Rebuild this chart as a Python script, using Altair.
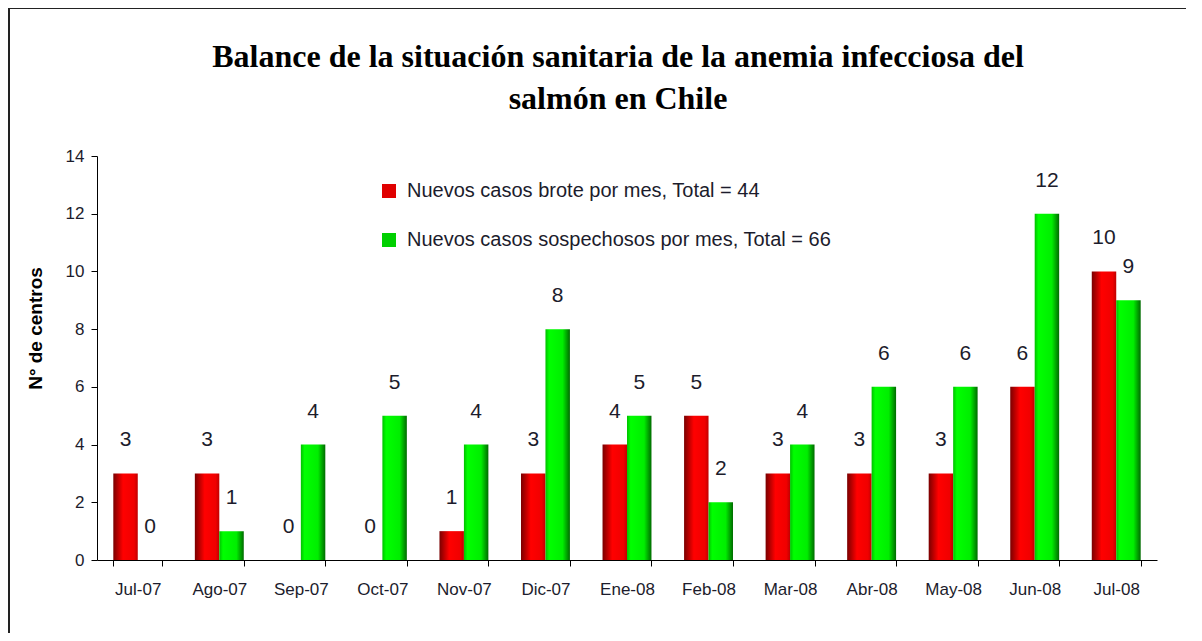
import altair as alt
import pandas as pd

meses = ["Jul-07", "Ago-07", "Sep-07", "Oct-07", "Nov-07", "Dic-07", "Ene-08",
         "Feb-08", "Mar-08", "Abr-08", "May-08", "Jun-08", "Jul-08"]
brote = [3, 3, 0, 0, 1, 3, 4, 5, 3, 3, 3, 6, 10]
sospechosos = [0, 1, 4, 5, 4, 8, 5, 2, 4, 6, 6, 12, 9]
serie_brote = "Nuevos casos brote por mes, Total = 44"
serie_sosp = "Nuevos casos sospechosos por mes, Total = 66"
series = [serie_brote, serie_sosp]
colores = ["#e00000", "#00d000"]

rows = []
for m, b, s in zip(meses, brote, sospechosos):
    rows.append({"mes": m, "serie": serie_brote, "valor": b})
    rows.append({"mes": m, "serie": serie_sosp, "valor": s})
df = pd.DataFrame(rows)

FONT = "Liberation Sans"
TXT = "#1c1c2c"

red_grad = {"gradient": "linear", "x1": 0, "x2": 1, "y1": 0, "y2": 0,
            "stops": [{"offset": 0, "color": "#7a0000"},
                      {"offset": 0.4, "color": "#ff0000"},
                      {"offset": 0.85, "color": "#f00000"},
                      {"offset": 1, "color": "#c00000"}]}
green_grad = {"gradient": "linear", "x1": 0, "x2": 1, "y1": 0, "y2": 0,
              "stops": [{"offset": 0, "color": "#00c000"},
                        {"offset": 0.15, "color": "#00ff00"},
                        {"offset": 0.7, "color": "#00ee00"},
                        {"offset": 1, "color": "#006a00"}]}

x_enc = alt.X("mes:N", sort=meses, title=None,
              scale=alt.Scale(paddingInner=0.4, paddingOuter=0.2),
              axis=alt.Axis(labelAngle=0, labelFont=FONT, labelFontSize=17, labelColor=TXT,
                            domainColor="black", tickColor="black", tickSize=6,
                            tickBand="extent", labelPadding=15))
xo_enc = alt.XOffset("serie:N", scale=alt.Scale(domain=series, paddingInner=0, paddingOuter=0))
y_enc = alt.Y("valor:Q", scale=alt.Scale(domain=[0, 14]),
              axis=alt.Axis(values=list(range(0, 15, 2)), grid=False, title="N° de centros",
                            titleFont=FONT, titleFontSize=19, titleFontWeight="bold", titleColor="black",
                            titleX=-62, titleY=172, titleAngle=270, titleAlign="center",
                            titleBaseline="middle",
                            labelFont=FONT, labelFontSize=17, labelColor=TXT, labelPadding=7,
                            domainColor="black", tickColor="black", tickSize=6))

base = alt.Chart(df)

bars_red = base.transform_filter(alt.datum.serie == serie_brote).mark_bar(
    color=red_grad).encode(x=x_enc, xOffset=xo_enc, y=y_enc)
bars_green = base.transform_filter(alt.datum.serie == serie_sosp).mark_bar(
    color=green_grad).encode(x=x_enc, xOffset=xo_enc, y=y_enc)

labels = base.mark_text(font=FONT, fontSize=21, color=TXT, baseline="middle", dy=-33).encode(
    x=x_enc, xOffset=xo_enc, y=y_enc, text="valor:Q")

legend_layer = base.transform_filter("false").mark_square(size=196, opacity=1).encode(
    x=x_enc, y=y_enc,
    color=alt.Color("serie:N", scale=alt.Scale(domain=series, range=colores),
                    legend=alt.Legend(title=None, orient="none", legendX=282, legendY=25,
                                      symbolType="square", symbolSize=196, symbolStrokeWidth=0,
                                      symbolOpacity=1, labelFont=FONT, labelFontSize=20,
                                      labelColor=TXT, rowPadding=29, padding=0,
                                      labelOffset=8, labelLimit=600)))

frame = alt.Chart(pd.DataFrame({"a": [0]}))
left_border = frame.mark_rule(color="#222", strokeWidth=2).encode(
    x=alt.value(-88), y=alt.value(-148), y2=alt.value(480))
top_border = frame.mark_rule(color="#222", strokeWidth=2).encode(
    x=alt.value(-89), x2=alt.value(1100), y=alt.value(-148))

chart = alt.layer(bars_red, bars_green, labels, legend_layer, left_border, top_border).properties(
    width=1060, height=404,
    autosize=alt.AutoSizeParams(type="none"),
    padding={"left": 89, "top": 148, "right": 29, "bottom": 73},
    title=alt.TitleParams(
        text=["Balance de la situación sanitaria de la anemia infecciosa del", "salmón en Chile"],
        font="Liberation Serif", fontSize=32, fontWeight="bold", color="black",
        anchor="middle", offset=-109, lineHeight=42, dx=-9, frame="group"),
).configure(background="white").configure_view(strokeWidth=0)

chart.save("out.html", embed_options={"renderer": "svg", "actions": False})
